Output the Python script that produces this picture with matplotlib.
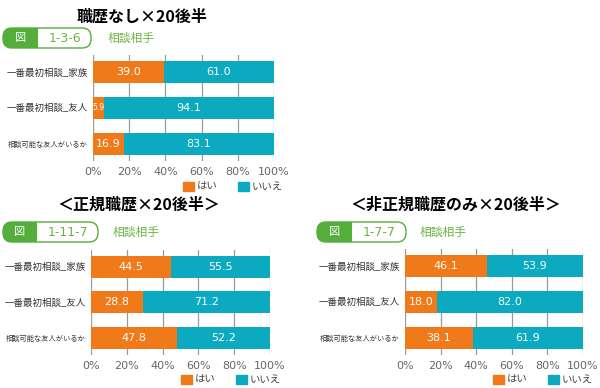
import matplotlib
matplotlib.use("Agg")
import matplotlib.pyplot as plt
from matplotlib.patches import FancyBboxPatch, Rectangle, Patch

plt.rcParams['font.family'] = ['Noto Sans CJK JP', 'DejaVu Sans']

# データ
categories = ['一番最初相談_家族', '一番最初相談_友人', '相談可能な友人がいるか']
hai_1 = [39.0, 5.9, 16.9]
iie_1 = [61.0, 94.1, 83.1]
hai_2 = [44.5, 28.8, 47.8]
iie_2 = [55.5, 71.2, 52.2]
hai_3 = [46.1, 18.0, 38.1]
iie_3 = [53.9, 82.0, 61.9]
titles = ['職歴なし×20後半', '＜正規職歴×20後半＞', '＜非正規職歴のみ×20後半＞']
fig_ids = ['1-3-6', '1-11-7', '1-7-7']
ticks = [0, 20, 40, 60, 80, 100]
tick_labels = ['0%', '20%', '40%', '60%', '80%', '100%']

ORANGE = '#F07A19'
TEAL = '#0BAAC1'
GREEN = '#53AE3B'
LGREEN = '#6BB444'

W, H = 600, 388
fig = plt.figure(figsize=(6, 3.88), dpi=100)

# 全体用のピクセル座標の軸
bg = fig.add_axes([0, 0, 1, 1])
bg.set_xlim(0, W)
bg.set_ylim(H, 0)
bg.axis('off')


def rect(x0, y0, x1, y1):
    return [x0 / W, 1 - y1 / H, (x1 - x0) / W, (y1 - y0) / H]


def badge(x0, x1, xs, y0, y1, label, title_x):
    h = y1 - y0
    fill = FancyBboxPatch((x0, y0), x1 - x0, h, boxstyle='round,pad=0,rounding_size=9',
                          facecolor=GREEN, edgecolor='none')
    bg.add_patch(fill)
    clip = Rectangle((x0, y0), xs - x0, h, transform=bg.transData)
    fill.set_clip_path(clip)
    border = FancyBboxPatch((x0, y0), x1 - x0, h, boxstyle='round,pad=0,rounding_size=9',
                            facecolor='none', edgecolor=GREEN, linewidth=1.0)
    bg.add_patch(border)
    bg.text((x0 + xs) / 2, (y0 + y1) / 2, '図', color='white', fontsize=8,
            ha='center', va='center')
    bg.text((xs + x1) / 2, (y0 + y1) / 2, label, color=LGREEN, fontsize=9,
            ha='center', va='center', family='DejaVu Sans')
    bg.text(title_x, (y0 + y1) / 2, '相談相手', color=LGREEN, fontsize=8.5,
            ha='left', va='center')


def panel(box, hai, iie, leg_xy):
    ax = fig.add_axes(rect(*box))
    y = [0, 1, 2]
    b1 = ax.barh(y, hai, height=0.61, color=ORANGE, zorder=3)
    b2 = ax.barh(y, iie, left=hai, height=0.61, color=TEAL, zorder=3)
    for c in (b1, b2):
        txts = ax.bar_label(c, fmt='%.1f', label_type='center', color='white',
                            fontsize=8, family='DejaVu Sans')
        for t, v in zip(txts, c.datavalues):
            if v < 8:
                t.set_fontsize(5.5)
    ax.set_xlim(0, 100)
    ax.set_ylim(2.48, -0.47)
    ax.set_xticks(ticks)
    ax.set_xticklabels(tick_labels, family='DejaVu Sans')
    ax.set_yticks(y)
    ax.set_yticklabels(categories)
    for i, t in enumerate(ax.get_yticklabels()):
        t.set_fontsize(5.2 if i == 2 else 6.8)
        t.set_color('#333333')
    ax.tick_params(length=0, axis='both')
    ax.tick_params(axis='x', labelsize=8, labelcolor='#666666', pad=4)
    ax.tick_params(axis='y', pad=4)
    ax.grid(axis='x', color='#9a9a9a', linewidth=0.9, zorder=0)
    for s in ax.spines.values():
        s.set_visible(False)
    handles = [Patch(color=ORANGE, label='はい'), Patch(color=TEAL, label='いいえ')]
    fig.legend(handles=handles, loc='center', ncol=2, frameon=False,
               bbox_to_anchor=(leg_xy[0] / W, 1 - leg_xy[1] / H), fontsize=7.5,
               handlelength=1.0, handleheight=1.0, handletextpad=0.3, columnspacing=2.0,
               labelcolor='#444444')
    return ax


panel((93, 55, 274, 161), hai_1, iie_1, (233, 187))
panel((91, 250, 270, 355), hai_2, iie_2, (231, 380))
panel((405, 249, 583, 355), hai_3, iie_3, (543, 380))

bg.text(142, 17, titles[0], fontsize=11.5, fontweight='bold', ha='center', va='center')
bg.text(139, 205, titles[1], fontsize=11.5, fontweight='bold', ha='center', va='center')
bg.text(456, 205, titles[2], fontsize=11.5, fontweight='bold', ha='center', va='center')

badge(3, 91, 38, 28, 48, fig_ids[0], 108)
badge(3, 98, 37, 222, 242, fig_ids[1], 113)
badge(317, 406, 352, 222, 242, fig_ids[2], 420)

fig.savefig('out.png', dpi=100)
